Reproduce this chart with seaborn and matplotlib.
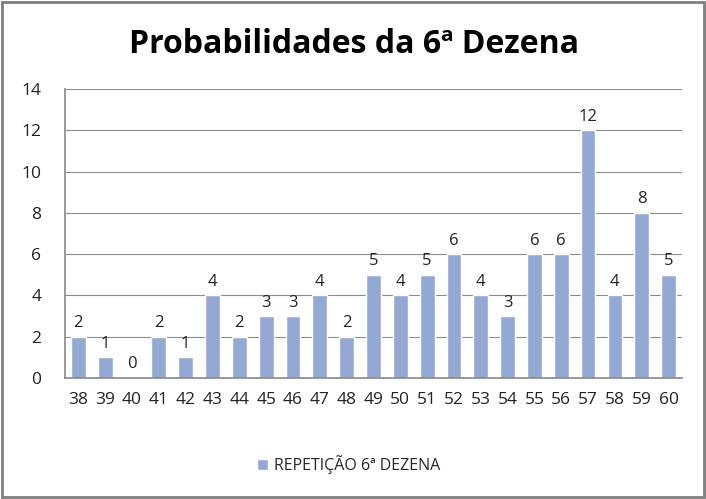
import matplotlib
matplotlib.use("Agg")
import matplotlib.pyplot as plt
from matplotlib.patches import Rectangle
import pandas as pd
import seaborn as sns

# ── Data ──────────────────────────────────────────────────────────
DEZENAS = ["38", "39", "40", "41", "42", "43", "44", "45", "46", "47", "48", "49",
           "50", "51", "52", "53", "54", "55", "56", "57", "58", "59", "60"]
REPETICOES = [2, 1, 0, 2, 1, 4, 2, 3, 3, 4, 2, 5, 4, 5, 6, 4, 3, 6, 6, 12, 4, 8, 5]
SERIE = "REPETIÇÃO 6ª DEZENA"
TITULO = "Probabilidades da 6ª Dezena"

BAR_COLOR = "#94A8D4"

sns.set_theme(style="white")
plt.rcParams["font.family"] = ["Open Sans", "DejaVu Sans"]

df = pd.DataFrame({"Dezena": DEZENAS, "Repeticoes": REPETICOES})

fig = plt.figure(figsize=(7.06, 4.99), dpi=100)
ax = fig.add_axes([0.092, 0.2425, 0.874, 0.579])

sns.barplot(data=df, x="Dezena", y="Repeticoes", order=DEZENAS,
            color=BAR_COLOR, saturation=1, width=0.55, ax=ax, label=SERIE)

ax.bar_label(ax.containers[0], padding=4, fontsize=12, color="#222222")

ax.set_ylim(0, 14)
ax.set_yticks(range(0, 15, 2))
ax.set_xlim(-0.5, len(DEZENAS) - 0.5)
ax.yaxis.grid(True, color="#8c8c8c", linewidth=0.8)
ax.set_axisbelow(True)
ax.set_xlabel("")
ax.set_ylabel("")
ax.tick_params(axis="both", labelsize=12.5, colors="#222222", length=0)
ax.tick_params(axis="y", pad=17)
ax.tick_params(axis="x", pad=10)
for side in ["top", "right"]:
    ax.spines[side].set_visible(False)
ax.spines["left"].set_color("#8c8c8c")
ax.spines["bottom"].set_color("#8c8c8c")

fig.text(0.502, 0.91, TITULO, ha="center", va="center",
         fontsize=23, fontweight="bold", color="black")

leg = ax.legend(loc="center", bbox_to_anchor=(0.46, -0.3), frameon=False,
                fontsize=11.5, handlelength=0.7, handleheight=0.7,
                handletextpad=0.4)

# outer border
fig.patches.append(Rectangle((0.003, 0.004), 0.994, 0.992, transform=fig.transFigure,
                             fill=False, edgecolor="#7f7f7f", linewidth=2))

fig.savefig("out.png", dpi=100)
